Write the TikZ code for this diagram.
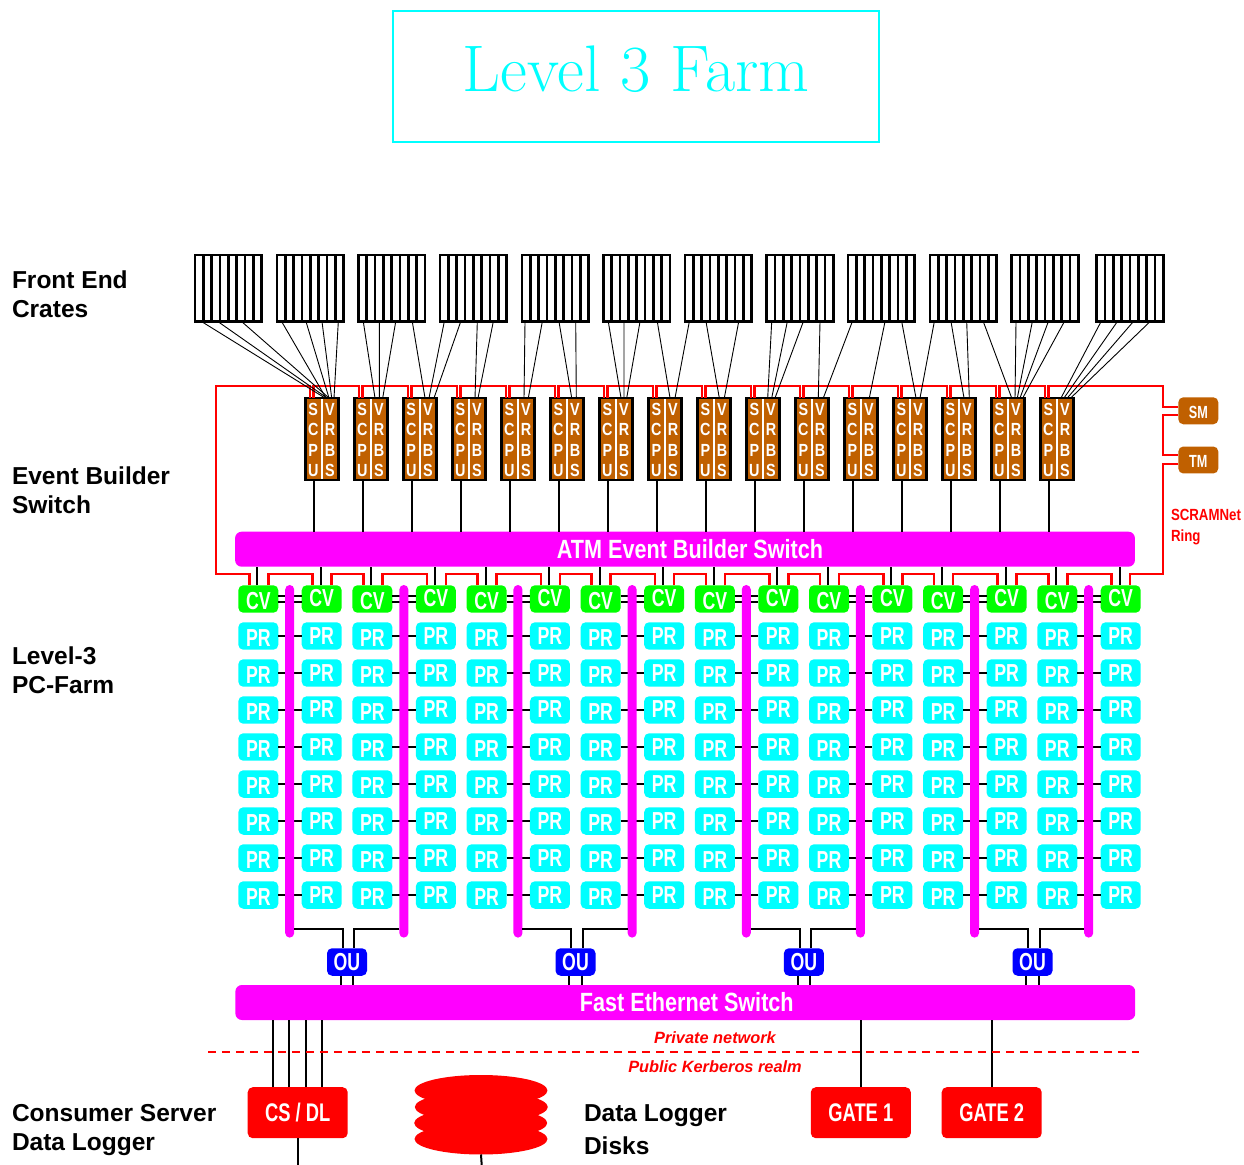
\documentclass[tikz,border=0pt]{standalone}
\usepackage{fontspec}
\usepackage{tikz}
\usetikzlibrary{calc,shapes.geometric}
\newfontfamily\labelfont{Liberation Sans}
\newfontfamily\narrowfont[FakeStretch=.72]{Liberation Sans}
\newfontfamily\barfont[FakeStretch=.82]{Liberation Sans}
\newcommand{\px}{.02cm}
\definecolor{vmebrown}{HTML}{C06000}
\definecolor{farmcyan}{HTML}{00FFFF}
\definecolor{farmmagenta}{HTML}{FF00FF}
\definecolor{farmred}{HTML}{FF0000}
\definecolor{farmgreen}{HTML}{00FF00}
\definecolor{farmblue}{HTML}{0000FF}

\begin{document}
\begin{tikzpicture}[
  x=.02cm,y=-.02cm,
  base/.style={inner sep=0pt,outer sep=0pt},
  title/.style={base,draw=farmcyan,line width=.046cm,minimum width=9.72cm,
    minimum height=2.62cm,text depth=.33cm,text=farmcyan,font=\fontsize{37.5}{44}\selectfont},
  crate/.style={base,draw,line width=.055cm,minimum width=1.334cm,minimum height=1.334cm},
  slot/.style={line width=.055cm},
  fibre/.style={line width=.018cm},
  vme/.style={base,draw,line width=.05cm,fill=vmebrown,minimum width=.66cm,minimum height=1.64cm},
  vmetext/.style={base,align=center,text=white,
    font=\fontsize{10}{11.6}\selectfont\barfont\bfseries},
  ring/.style={draw=farmred,line width=.05cm},
  link/.style={line width=.04cm},
  tag/.style={base,fill=vmebrown,rounded corners=.1cm,minimum width=.8cm,minimum height=.54cm,
    text height=.32cm,text depth=0pt,text=white,font=\fontsize{10}{11}\selectfont\narrowfont\bfseries},
  switchbar/.style={base,fill=farmmagenta,rounded corners=.13cm,minimum width=18cm,minimum height=.7cm,
    text=white,font=\fontsize{15}{18}\selectfont\barfont\bfseries},
  rail/.style={base,fill=farmmagenta,rounded corners=.09cm,minimum width=.18cm,minimum height=7.054cm},
  cell/.style={base,rounded corners=.1cm,minimum width=.8cm,minimum height=.55cm,
    text=white,font=\fontsize{14}{16}\selectfont\narrowfont\bfseries},
  lower/.style={text height=.434cm,text depth=0pt},
  upper/.style={text height=.32cm,text depth=0pt},
  redbox/.style={base,fill=farmred,rounded corners=.1cm,minimum width=2cm,minimum height=1.02cm,
    text=white,font=\fontsize{14.5}{16}\selectfont\narrowfont\bfseries},
  disk/.style={base,ellipse,fill=farmred,minimum width=2.66cm,minimum height=.62cm},
  sidelabel/.style={base,anchor=west,align=left,
    font=\fontsize{13.95}{16.6}\selectfont\labelfont\bfseries},
  realm/.style={base,text=farmred,font=\fontsize{9.3}{11}\selectfont\labelfont\bfseries\itshape},
  scramnet/.style={base,anchor=west,align=left,text=farmred,
    font=\fontsize{9.2}{11.8}\selectfont\barfont\bfseries}
]
\useasboundingbox (0,0) rectangle (1244,1165);

\node[title] (title) at (636,76.5) {Level 3 Farm};

\node[sidelabel] (front) at (12,294.5) {Front End\\Crates};
\node[sidelabel] (event) at (12,490.5) {Event Builder\\Switch};
\node[sidelabel] (farm) at (12,670.5) {Level-3\\PC-Farm};
\node[sidelabel] (consumer) at (12,1130) {Consumer Server\\Data Logger};
\node[sidelabel] (logger) at (584,1129.5) {Data Logger\\[1.9pt]Disks};

% crates
\foreach \i/\xc in {1/195,2/277,3/358.3,4/440,5/522,6/603.3,7/685,8/766.7,9/848,10/930,11/1011.7,12/1096.7} {
  \node[crate] (crate-\i) at (\xc+33.35,288.3) {};
  \foreach \s in {1,...,7}
    \draw[slot] ([xshift=\s*8.34*\px]crate-\i.south west) -- ([xshift=\s*8.34*\px]crate-\i.north west);
}

% readout boxes
\foreach \i in {1,...,16} {
  \node[vme] (vme-\i) at (322+49*\i-49,439) {};
  \draw[white,line width=.04cm] ([yshift=1.2*\px]vme-\i.south) -- ([yshift=-1.2*\px]vme-\i.north);
  \node[vmetext] (vme-\i-l) at ([xshift=-8.7*\px,yshift=-1*\px]vme-\i.center) {S\\C\\P\\U};
  \node[vmetext] (vme-\i-r) at ([xshift=8*\px,yshift=-1*\px]vme-\i.center) {V\\R\\B\\S};
}

\node[tag] (sm) at (1198.3,410.8) {SM};
\node[tag] (tm) at (1198.3,460) {TM};
\node[scramnet] (scram) at (1171,527) {SCRAMNet\\Ring};

\node[switchbar] (atm) at (685,549.2) {\hspace{.2cm}ATM Event Builder Switch};
\node[switchbar] (eth) at (685.3,1002.5) {\hspace{.06cm}Fast Ethernet Switch};

% farm grid
\foreach \k in {0,...,7} {
  \pgfmathtruncatemacro{\left}{2*\k+1}
  \pgfmathtruncatemacro{\right}{2*\k+2}
  \pgfmathtruncatemacro{\railno}{\k+1}
  \node[cell,fill=farmgreen,lower] (cv-\left) at (258.3+114.14*\k,599) {CV};
  \node[cell,fill=farmgreen,upper] (cv-\right) at (321.7+114.14*\k,599) {CV};
  \draw[link] ([yshift=3.3*\px]cv-\left.east) -- ([yshift=3.3*\px]cv-\right.west);
  \draw[link] ([yshift=-3.3*\px]cv-\left.east) -- ([yshift=-3.3*\px]cv-\right.west);
  \foreach \r in {1,...,8} {
    \node[cell,fill=farmcyan,lower] (pr-\left-\r) at (258.3+114.14*\k,599+37*\r) {PR};
    \node[cell,fill=farmcyan,upper] (pr-\right-\r) at (321.7+114.14*\k,599+37*\r) {PR};
    \draw[link] (pr-\left-\r) -- (pr-\right-\r);
  }
  \node[rail] (rail-\railno) at (289.7+114.14*\k,761.3) {};
}

% scramnet ring
\coordinate (ring-nw) at (216,386);
\coordinate (ring-ne) at (1163,386);
\coordinate (ring-sw) at (216,574);
\coordinate (ring-se) at (1163,574);
\draw[ring] ([xshift=-9*\px]cv-1.north) -- ([xshift=-9*\px]cv-1.north |- ring-sw) -- (ring-sw)
  -- (ring-nw) -- ([xshift=4.7*\px]vme-1.north west |- ring-nw) -- ([xshift=4.7*\px]vme-1.north west);
\foreach \i [count=\j from 2] in {1,...,15} {
  \draw[ring] ([xshift=8*\px]vme-\i.north west) -- ([xshift=8*\px]vme-\i.north west |- ring-nw)
    -- ([xshift=4.7*\px]vme-\j.north west |- ring-nw) -- ([xshift=4.7*\px]vme-\j.north west);
  \draw[ring] ([xshift=10*\px]cv-\i.north) -- ([xshift=10*\px]cv-\i.north |- ring-sw)
    -- ([xshift=-9*\px]cv-\j.north |- ring-sw) -- ([xshift=-9*\px]cv-\j.north);
}
\draw[ring] ([xshift=8*\px]vme-16.north west) -- ([xshift=8*\px]vme-16.north west |- ring-ne)
  -- (ring-ne) -- ([yshift=4*\px]sm.west -| ring-ne) -- ([yshift=4*\px]sm.west);
\draw[ring] ([yshift=-4*\px]sm.west) -- ([yshift=-4*\px]sm.west -| ring-ne)
  -- ([yshift=5*\px]tm.west -| ring-ne) -- ([yshift=5*\px]tm.west);
\draw[ring] ([yshift=-4*\px]tm.west) -- ([yshift=-4*\px]tm.west -| ring-se)
  -- (ring-se) -- ([xshift=9.5*\px]cv-16.north |- ring-se) -- ([xshift=9.5*\px]cv-16.north);

% crate to readout fibres
\foreach \c/\a/\v/\b in {1/6.7/1/19.5,1/23/1/21.5,1/46.7/1/23.5,
  2/4.7/1/20.5,2/29/1/23.5,2/45/1/26.2,2/61.3/1/28.5,
  3/5/2/20.5,3/21/2/24.8,3/37.4/2/28.2,3/54/3/21.5,
  4/4.3/3/25.5,4/20.7/3/30.5,4/37.3/4/22.5,4/53.3/4/25.5,
  5/3/5/22.5,5/20.3/5/26.8,5/37/6/21.2,5/53.7/6/25.8,
  6/5/7/21.5,6/20.7/7/24.5,6/36.7/7/27.2,6/54/8/21.5,
  7/4.3/8/26.5,7/21/9/21.8,7/53.7/9/26.8,
  8/5/10/21.2,8/20.6/10/25.2,8/36.6/10/28.5,8/53.3/11/22.8,
  9/4.3/11/27.8,9/37/12/24.8,9/53.7/13/22.5,
  10/4.3/13/26.5,10/21/14/21.5,10/36.7/14/26.8,10/53.3/15/20.2,
  11/4.3/15/23.5,11/20.6/15/25.8,11/36.6/15/28.5,11/52.6/15/31.2,
  12/4.3/16/20.5,12/20.6/16/23.5,12/36.6/16/26.8,12/53.3/16/30.2}
  \draw[fibre] ([xshift=\a*\px]crate-\c.south west) -- ([xshift=\b*\px]vme-\v.north west);

% readout and converter links
\foreach \i in {1,...,16} {
  \draw[link] ([xshift=-8*\px]vme-\i.south) -- ([xshift=-8*\px]vme-\i.south |- atm.north);
  \draw[link] ([xshift=-1*\px]cv-\i.north) -- ([xshift=-1*\px]cv-\i.north |- atm.south);
}

% output units
\foreach \i/\xc/\ra/\rb in {1/347/1/2,2/575.5/3/4,3/803.9/5/6,4/1032.5/7/8} {
  \node[cell,fill=farmblue] (ou-\i) at (\xc,962) {OU};
  \draw[link] ([yshift=8.4*\px]rail-\ra.south east) -| ([xshift=-4.4*\px]ou-\i.north);
  \draw[link] ([yshift=8.4*\px]rail-\rb.south west) -| ([xshift=7.4*\px]ou-\i.north);
  \draw[link] ([xshift=-6.4*\px]ou-\i.south) -- ([xshift=-6.4*\px]ou-\i.south |- eth.north);
  \draw[link] ([xshift=6.2*\px]ou-\i.south) -- ([xshift=6.2*\px]ou-\i.south |- eth.north);
}

% public side
\node[redbox] (cs) at (297.7,1112.7) {CS / DL};
\node[redbox] (gate-1) at (860.8,1112.7) {GATE 1};
\node[redbox] (gate-2) at (991.7,1112.7) {GATE 2};
\node[disk] (disk-1) at (481,1090.5) {};
\node[disk] (disk-2) at (481.3,1107) {};
\node[disk] (disk-3) at (480.7,1123) {};
\node[disk] (disk-4) at (481,1139) {};
\coordinate (cs-out) at (297.7,1165);
\coordinate (disk-out) at (481.7,1165);

\foreach \d in {-24.7,-8.4,8,24.3}
  \draw[link] ([xshift=\d*\px]cs.north) -- ([xshift=\d*\px]cs.north |- eth.south);
\draw[link] (gate-1.north) -- (gate-1.north |- eth.south);
\draw[link] (gate-2.north) -- (gate-2.north |- eth.south);
\draw[link] (cs.south) -- (cs-out);
\draw[link] (disk-4.south) -- (disk-out);

% network border
\coordinate (net-w) at (208,1051.7);
\coordinate (net-e) at (1139,1051.7);
\draw[color=farmred,line width=.034cm,dash pattern=on .16cm off .12cm] (net-w) -- (net-e);
\node[realm] (private) at (715,1037.5) {Private network};
\node[realm] (public) at (715,1066.5) {Public Kerberos realm};
\end{tikzpicture}
\end{document}
